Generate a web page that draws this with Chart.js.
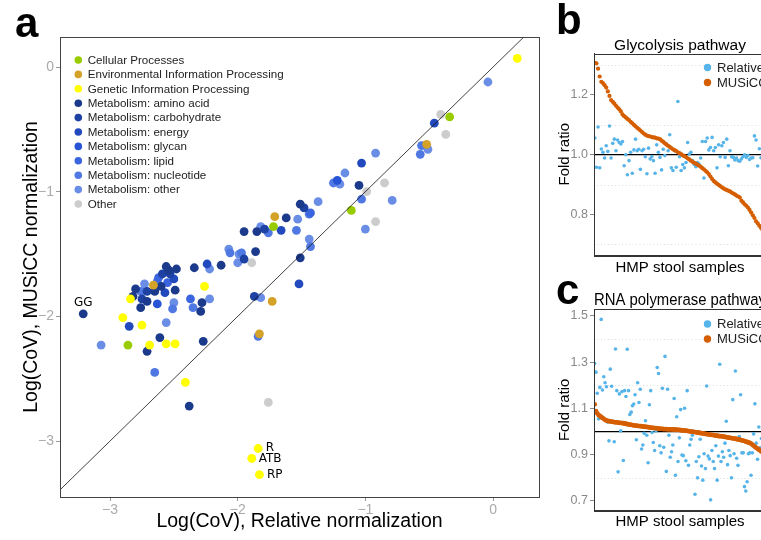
<!DOCTYPE html>
<html>
<head>
<meta charset="utf-8">
<script src="https://cdn.jsdelivr.net/npm/chart.js@4.4.1/dist/chart.umd.min.js"></script>
<style>
  html, body { margin: 0; padding: 0; background: #fff; overflow: hidden; width: 761px; height: 540px; }
  .panel { position: absolute; }
  .letter { position: absolute; font: bold 42px "Liberation Sans", Arial, sans-serif; line-height: 42px; color: #000; z-index: 5; }
</style>
</head>
<body>
<div class="letter" style="left:15px; top:2px;">a</div>
<div class="letter" style="left:556px; top:-1px;">b</div>
<div class="letter" style="left:556px; top:269px;">c</div>

<div class="panel" style="left:0; top:0;"><canvas id="chartA" width="545" height="540"></canvas></div>
<div class="panel" style="left:545px; top:0;"><canvas id="chartB" width="225" height="280"></canvas></div>
<div class="panel" style="left:545px; top:280px;"><canvas id="chartC" width="225" height="260"></canvas></div>

<script>
// ---- panel a: Log(CoV) per pathway, [relative, MUSiCC] ----
const categories = [
  'Cellular Processes', 'Environmental Information Processing', 'Genetic Information Processing',
  'Metabolism: amino acid', 'Metabolism: carbohydrate', 'Metabolism: energy', 'Metabolism: glycan',
  'Metabolism: lipid', 'Metabolism: nucleotide', 'Metabolism: other', 'Other'
];
const categoryColors = [
  '#99CC00', '#D4A226', '#FFFF00',
  '#1B3A8C', '#1E42A3', '#2249BD', '#2754D4', '#3A65DE', '#5078E2', '#6A8DE6', '#CCCCCC'
];

const cellular = [[-0.34, -0.40], [-1.11, -1.15], [-1.72, -1.28], [-2.86, -2.23]];
const environmental = [[-0.52, -0.62], [-1.71, -1.20], [-2.66, -1.75], [-1.73, -1.88], [-1.83, -2.14]];
const genetic = [[-1.84, -3.06], [-1.89, -3.14], [-1.83, -3.27], [0.19, 0.07], [-2.84, -1.86], [-2.26, -1.76],
  [-2.90, -2.01], [-2.75, -2.07], [-2.69, -2.23], [-2.56, -2.22], [-2.49, -2.22], [-2.41, -2.53]];
const aminoAcid = [[-3.21, -1.98], [-1.05, -0.95], [-1.51, -1.10], [-1.62, -1.21], [-1.85, -1.32], [-1.51, -1.53],
  [-1.86, -1.48], [-1.95, -1.32], [-2.34, -1.61], [-2.13, -1.59], [-2.48, -1.62], [-2.54, -1.63], [-2.56, -1.60],
  [-2.60, -1.76], [-2.49, -1.79], [-2.80, -1.78], [-2.65, -1.80], [-2.82, -1.84], [-2.71, -1.88], [-2.76, -1.93],
  [-2.28, -1.89], [-2.29, -1.96], [-2.71, -2.28], [-2.61, -2.17], [-2.27, -2.20], [-2.38, -2.72]];
const carbohydrate = [[-1.48, -1.13], [-1.79, -1.30], [-1.95, -1.54], [-2.53, -1.66], [-2.59, -1.66],
  [-2.71, -1.80], [-2.75, -1.86], [-1.87, -1.84]];
const energy = [[-0.46, -0.45], [-1.03, -0.77], [-1.66, -1.31], [-1.52, -1.74], [-2.24, -1.58], [-2.50, -1.70],
  [-2.57, -1.81], [-2.85, -2.08]];
const glycan = [[-1.22, -0.91], [-2.63, -1.90]];
const lipid = [[-1.43, -1.17], [-2.55, -1.73], [-2.37, -1.86], [-2.62, -1.69]];
const nucleotide = [[-0.56, -0.63], [-0.57, -0.70], [-1.25, -0.93], [-1.03, -1.06], [-1.44, -1.18], [-1.54, -1.31],
  [-1.76, -1.33], [-1.43, -1.44], [-2.06, -1.49], [-1.97, -1.49], [-2.63, -1.72], [-2.76, -1.80], [-2.51, -1.94],
  [-2.35, -1.93], [-2.65, -2.45], [-1.84, -2.16]];
const metabolismOther = [[-0.04, -0.12], [-0.51, -0.66], [-0.92, -0.69], [-1.16, -0.85], [-1.20, -0.94],
  [-0.79, -1.07], [-1.37, -1.08], [-1.53, -1.22], [-1.82, -1.28], [-1.00, -1.30], [-1.44, -1.38], [-2.07, -1.46],
  [-1.99, -1.50], [-2.00, -1.57], [-2.22, -1.62], [-2.73, -1.74], [-2.50, -1.89], [-2.22, -1.86], [-1.82, -1.85],
  [-2.56, -2.05], [-3.07, -2.23]];
const other = [[-0.41, -0.38], [-0.37, -0.54], [-0.85, -0.93], [-0.99, -1.00], [-0.92, -1.24], [-1.89, -1.57],
  [-1.76, -2.69]];

const categoryPoints = [cellular, environmental, genetic, aminoAcid, carbohydrate, energy, glycan,
  lipid, nucleotide, metabolismOther, other];
const diagonal = [-3.6, 0.5];
const ticksA = [-3, -2, -1, 0];

// named pathways: [category index, point index, name]
const namedPoints = [[3, 0, 'GG'], [2, 0, 'R'], [2, 1, 'ATB'], [2, 2, 'RP']];

// ---- panels b, c: fold ratio per HMP stool sample ----
const glycolysisRelative = [1.056, 0.958, 1.093, 0.956, 1.019, 1.008, 0.989, 1.030, 1.011, 1.096,
  0.989, 1.038, 1.052, 1.013, 1.049, 1.041, 1.036, 1.044, 0.963, 1.000,
  0.933, 0.980, 1.008, 0.938, 1.016, 1.052, 1.013, 1.018, 0.951, 1.013,
  1.018, 0.993, 0.936, 1.022, 0.986, 0.993, 0.980, 0.938, 1.033, 1.008,
  0.991, 0.949, 1.018, 0.997, 1.036, 1.013, 1.067, 0.956, 0.947, 1.013,
  0.958, 1.178, 0.993, 0.947, 0.967, 0.956, 0.974, 1.041, 1.002, 1.008,
  0.980, 0.967, 0.960, 0.974, 0.969, 0.989, 1.044, 0.922, 1.044, 1.056,
  1.016, 1.024, 1.058, 1.013, 1.024, 0.956, 1.033, 0.993, 1.030, 1.041,
  0.991, 1.052, 0.963, 1.013, 0.993, 0.991, 0.982, 0.989, 0.980, 0.978,
  0.986, 0.993, 1.000, 0.991, 0.997, 0.984, 0.989, 0.990, 1.063, 1.049,
  0.962, 1.020, 0.990, 1.000, 0.985];
const glycolysisMusicc = [1.308, 1.306, 1.288, 1.262, 1.244, 1.240, 1.233, 1.225, 1.212, 1.197,
  1.183, 1.177, 1.171, 1.164, 1.158, 1.152, 1.145, 1.135, 1.129, 1.125,
  1.120, 1.116, 1.110, 1.105, 1.100, 1.095, 1.090, 1.086, 1.081, 1.076,
  1.071, 1.067, 1.064, 1.062, 1.061, 1.059, 1.058, 1.057, 1.055, 1.054,
  1.052, 1.047, 1.043, 1.038, 1.034, 1.030, 1.026, 1.022, 1.018, 1.015,
  1.012, 1.008, 1.005, 1.002, 0.998, 0.995, 0.992, 0.988, 0.984, 0.980,
  0.976, 0.973, 0.970, 0.967, 0.963, 0.960, 0.955, 0.951, 0.946, 0.941,
  0.935, 0.927, 0.919, 0.912, 0.907, 0.903, 0.899, 0.895, 0.891, 0.887,
  0.884, 0.882, 0.879, 0.877, 0.873, 0.870, 0.867, 0.863, 0.860, 0.857,
  0.846, 0.840, 0.834, 0.829, 0.823, 0.815, 0.806, 0.797, 0.788, 0.777,
  0.770, 0.762, 0.755, 0.748, 0.741];

const rnaPolRelative = [1.294, 1.257, 1.166, 1.055, 1.191, 1.485, 1.180, 1.237, 1.211, 1.194,
  1.041, 0.960, 1.270, 1.196, 1.041, 0.956, 1.357, 1.177, 0.826, 1.163,
  1.003, 1.173, 0.875, 1.177, 1.152, 1.356, 1.177, 1.074, 1.084, 1.112,
  1.119, 1.159, 0.965, 1.211, 1.126, 1.183, 0.925, 0.942, 0.993, 1.047,
  0.984, 0.865, 1.116, 1.177, 0.996, 0.953, 0.918, 1.003, 1.277, 1.251,
  0.939, 0.908, 1.187, 0.932, 1.325, 0.828, 1.183, 0.984, 0.889, 0.913,
  0.942, 1.143, 0.811, 1.064, 0.871, 0.973, 1.095, 0.899, 0.896, 1.101,
  0.874, 1.177, 0.854, 0.942, 0.967, 0.984, 0.996, 0.729, 0.871, 0.800,
  0.891, 0.967, 0.851, 0.790, 0.904, 0.840, 1.197, 0.894, 0.882, 0.705,
  0.918, 0.871, 0.840, 0.939, 0.790, 0.894, 1.291, 0.871, 0.913, 0.889,
  0.950, 1.045, 0.857, 0.918, 0.896, 0.800, 1.138, 0.904, 1.262, 0.885,
  0.854, 0.979, 1.159, 0.908, 0.908, 0.762, 0.743, 0.783, 0.904, 0.908,
  0.811, 0.908, 0.990, 1.120, 0.950, 0.880, 1.020, 0.930, 0.970, 0.860, 1.050];
const rnaPolMusicc = [1.118, 1.088, 1.079, 1.072, 1.067, 1.063, 1.059, 1.055, 1.051, 1.048,
  1.046, 1.045, 1.044, 1.043, 1.042, 1.041, 1.040, 1.040, 1.039, 1.038,
  1.038, 1.037, 1.036, 1.035, 1.034, 1.032, 1.031, 1.030, 1.029, 1.028,
  1.027, 1.026, 1.026, 1.025, 1.024, 1.024, 1.023, 1.022, 1.021, 1.020,
  1.020, 1.019, 1.018, 1.017, 1.016, 1.016, 1.015, 1.015, 1.014, 1.013,
  1.013, 1.012, 1.012, 1.011, 1.011, 1.011, 1.010, 1.010, 1.010, 1.010,
  1.009, 1.009, 1.008, 1.008, 1.007, 1.007, 1.006, 1.005, 1.005, 1.004,
  1.004, 1.003, 1.002, 1.001, 1.000, 1.000, 0.999, 0.998, 0.997, 0.996,
  0.995, 0.994, 0.993, 0.992, 0.991, 0.990, 0.989, 0.988, 0.987, 0.986,
  0.986, 0.985, 0.984, 0.983, 0.982, 0.981, 0.980, 0.980, 0.979, 0.978,
  0.977, 0.976, 0.975, 0.974, 0.973, 0.972, 0.971, 0.970, 0.969, 0.968,
  0.966, 0.965, 0.964, 0.962, 0.961, 0.959, 0.957, 0.955, 0.953, 0.951,
  0.948, 0.944, 0.939, 0.934, 0.930, 0.926, 0.922, 0.918, 0.914, 0.910, 0.906];

const ticksB = [0.8, 1.0, 1.2];
const gridB = [0.7, 0.9, 1.1, 1.3];
const ticksC = [0.7, 0.9, 1.1, 1.3, 1.5];
const gridC = [0.8, 1.2, 1.4];
const baseline = 1.0;

const FONT = '"Liberation Sans", Arial, Helvetica, sans-serif';
const RELATIVE_COLOR = '#56B4E9';
const MUSICC_COLOR = '#D55E00';

Chart.defaults.font.family = FONT;
Chart.defaults.animation = false;

const minus = v => String(v).replace('-', '\u2212');

const framePlugin = {
  id: 'frame',
  afterDraw(chart, args, opts) {
    const { ctx, chartArea: a } = chart;
    ctx.save();
    ctx.strokeStyle = opts.color || '#444';
    ctx.lineWidth = 1;
    ctx.strokeRect(Math.round(a.left) + 0.5, Math.round(a.top) + 0.5,
      Math.round(a.right - a.left), Math.round(a.bottom - a.top));
    ctx.restore();
  }
};

// ---------------- panel a ----------------
const datasetsA = categories.map((name, i) => ({
  label: name,
  data: categoryPoints[i].map(p => ({ x: p[0], y: p[1] })),
  backgroundColor: categoryColors[i],
  borderWidth: 0,
  pointRadius: 4.4,
  order: 1
}));
datasetsA.push({
  type: 'line',
  label: 'y = x',
  data: diagonal.map(v => ({ x: v, y: v })),
  borderColor: '#111',
  borderWidth: 0.8,
  pointRadius: 0,
  order: 0
});

const insideLegendA = {
  id: 'insideLegendA',
  afterDraw(chart) {
    const { ctx, chartArea: a } = chart;
    ctx.save();
    ctx.font = '11.6px ' + FONT;
    ctx.textBaseline = 'middle';
    categories.forEach((name, i) => {
      const y = a.top + 23 + i * 14.4;
      ctx.fillStyle = categoryColors[i];
      ctx.beginPath();
      ctx.arc(a.left + 18.3, y, 3.8, 0, Math.PI * 2);
      ctx.fill();
      ctx.fillStyle = '#222';
      ctx.fillText(name, a.left + 27.7, y + 0.5);
    });
    ctx.restore();
  }
};

const labelOffsets = { GG: [0, -11, 'center'], R: [7.5, -1, 'left'], ATB: [7, 0.5, 'left'], RP: [7.5, 0.5, 'left'] };
const namesPlugin = {
  id: 'names',
  afterDatasetsDraw(chart) {
    const { ctx } = chart;
    ctx.save();
    ctx.font = '12px "DejaVu Sans", sans-serif';
    ctx.fillStyle = '#000';
    ctx.textBaseline = 'middle';
    namedPoints.forEach(([ci, pi, name]) => {
      const el = chart.getDatasetMeta(ci).data[pi];
      const [dx, dy, align] = labelOffsets[name];
      ctx.textAlign = align;
      ctx.fillText(name, el.x + dx, el.y + dy);
    });
    ctx.restore();
  }
};

new Chart(document.getElementById('chartA'), {
  type: 'scatter',
  data: { datasets: datasetsA },
  options: {
    responsive: false,
    layout: { padding: { top: 37, right: 6, left: 0, bottom: 0 } },
    plugins: { legend: { display: false }, tooltip: { enabled: false }, frame: { color: '#444' } },
    scales: {
      x: {
        type: 'linear', min: -3.392, max: 0.36,
        afterBuildTicks: s => { s.ticks = ticksA.map(v => ({ value: v })); },
        afterFit: s => { s.height = 43; s.paddingLeft = 0; s.paddingRight = 0; },
        ticks: { color: '#aaa', font: { size: 14 }, padding: 1, callback: v => minus(v) },
        grid: { drawOnChartArea: false, tickLength: 4, tickColor: '#999' },
        border: { color: '#444' },
        title: { display: true, text: 'Log(CoV), Relative normalization', color: '#000',
          font: { size: 19.5 }, padding: { top: 0, bottom: 6.5 } }
      },
      y: {
        type: 'linear', min: -3.449, max: 0.241,
        afterBuildTicks: s => { s.ticks = ticksA.map(v => ({ value: v })); },
        afterFit: s => { s.width = 60; s.paddingTop = 0; s.paddingBottom = 0; },
        ticks: { color: '#aaa', font: { size: 14 }, padding: 2, callback: v => minus(v) },
        grid: { drawOnChartArea: false, tickLength: 4, tickColor: '#999' },
        border: { color: '#444' },
        title: { display: true, text: 'Log(CoV), MUSiCC normalization', color: '#000',
          font: { size: 19.5 }, padding: { top: 20, bottom: 0 } }
      }
    }
  },
  plugins: [framePlugin, insideLegendA, namesPlugin]
});

// ---------------- panels b and c ----------------
const foldPlugin = {
  id: 'fold',
  beforeDatasetsDraw(chart, args, opts) {
    const { ctx, chartArea: a, scales: { y } } = chart;
    ctx.save();
    ctx.strokeStyle = '#dcdcdc';
    ctx.lineWidth = 1;
    ctx.setLineDash([1, 2.5]);
    opts.grid.forEach(v => {
      const py = Math.round(y.getPixelForValue(v)) + 0.5;
      ctx.beginPath(); ctx.moveTo(a.left, py); ctx.lineTo(a.right, py); ctx.stroke();
    });
    ctx.setLineDash([]);
    ctx.strokeStyle = '#000';
    ctx.lineWidth = 1.3;
    const py = y.getPixelForValue(baseline);
    ctx.beginPath(); ctx.moveTo(a.left, py); ctx.lineTo(a.right, py); ctx.stroke();
    ctx.restore();
  },
  afterDraw(chart, args, opts) {
    const { ctx, chartArea: a } = chart;
    ctx.save();
    ctx.font = '13px ' + FONT;
    ctx.textBaseline = 'middle';
    chart.data.datasets.forEach((ds, i) => {
      const y = a.top + opts.legendTop + i * 15;
      ctx.fillStyle = ds.backgroundColor;
      ctx.beginPath(); ctx.arc(a.left + 113.5, y, 3.7, 0, Math.PI * 2); ctx.fill();
      ctx.fillStyle = '#222';
      ctx.fillText(ds.label, a.left + 123, y + 0.5);
    });
    ctx.restore();
  }
};

function foldChart(id, title, relative, musicc, yMin, yMax, tickVals, gridVals, xMax, musRadius, layoutOpts) {
  return new Chart(document.getElementById(id), {
    type: 'scatter',
    data: {
      datasets: [
        { label: 'Relative', data: relative.map((v, i) => ({ x: i, y: v })), backgroundColor: RELATIVE_COLOR,
          borderWidth: 0, pointRadius: 1.8, order: 1 },
        { label: 'MUSiCC', data: musicc.map((v, i) => ({ x: i, y: v })), backgroundColor: MUSICC_COLOR,
          borderWidth: 0, pointRadius: musRadius, order: 0 }
      ]
    },
    options: {
      responsive: false,
      layout: { padding: 0 },
      plugins: {
        legend: { display: false }, tooltip: { enabled: false },
        title: { display: true, text: title, color: '#000', fullSize: false,
          font: { size: layoutOpts.titleSize, weight: 'normal', lineHeight: 1 }, padding: layoutOpts.titlePad },
        frame: { color: '#333' },
        fold: { grid: gridVals, legendTop: layoutOpts.legendTop }
      },
      scales: {
        x: {
          type: 'linear', min: -0.5, max: xMax,
          afterFit: s => { s.height = layoutOpts.xHeight; s.paddingLeft = 0; s.paddingRight = 0; },
          ticks: { display: false },
          grid: { display: false },
          border: { color: '#333' },
          title: { display: true, text: 'HMP stool samples', color: '#000', font: { size: 15 },
            padding: { top: 0, bottom: layoutOpts.xTitlePad } }
        },
        y: {
          type: 'linear', min: yMin, max: yMax,
          afterBuildTicks: s => { s.ticks = tickVals.map(v => ({ value: v })); },
          afterFit: s => { s.width = 49; s.paddingTop = 0; s.paddingBottom = 0; },
          ticks: { color: '#888', font: { size: 12.5 }, padding: 2, callback: v => v.toFixed(1) },
          grid: { drawOnChartArea: false, tickLength: 4, tickColor: '#888' },
          border: { color: '#333' },
          title: { display: true, text: 'Fold ratio', color: '#000', font: { size: 15 },
            padding: { top: 11, bottom: 0 } }
        }
      }
    },
    plugins: [framePlugin, foldPlugin]
  });
}

foldChart('chartB', 'Glycolysis pathway', glycolysisRelative, glycolysisMusicc, 0.664, 1.339,
  ticksB, gridB, 105.1, 2.1,
  { titleSize: 15.5, titlePad: { top: 38, bottom: 0 }, xHeight: 25, xTitlePad: 3, legendTop: 14 });
foldChart('chartC', 'RNA polymerase pathway', rnaPolRelative, rnaPolMusicc, 0.658, 1.53,
  ticksC, gridC, 131.5, 2.4,
  { titleSize: 16.3, titlePad: { top: 12.7, bottom: 0 }, xHeight: 29.3, xTitlePad: 9, legendTop: 15 });
</script>
</body>
</html>
